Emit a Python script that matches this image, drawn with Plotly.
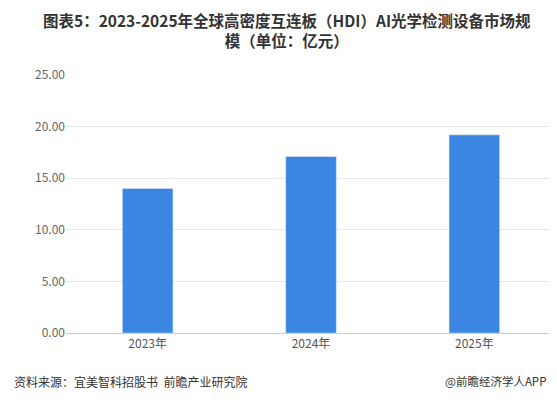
import plotly.graph_objects as go

categories = ["2023年", "2024年", "2025年"]
values = [14.0, 17.1, 19.2]
title = "图表5：2023-2025年全球高密度互连板（HDI）AI光学检测设备市场规<br>模（单位：亿元）"

fig = go.Figure(go.Bar(x=categories, y=values, marker_color="#3a86e2", width=0.31))
fig.update_layout(
    width=557, height=400, margin=dict(l=58, r=9, t=67, b=75),
    paper_bgcolor="white", plot_bgcolor="white", showlegend=False,
    font=dict(family="Noto Sans CJK SC", size=12, color="#555"),
    yaxis=dict(range=[0, 25], dtick=5, tickformat=".2f", showgrid=True, gridcolor="#e6e6e6",
               zeroline=False, showline=False, ticks="", tickfont=dict(color="#666")),
    xaxis=dict(showline=True, linecolor="#cccccc", ticks="", tickfont=dict(color="#555")),
    annotations=[
        dict(text="<b>" + title + "</b>", x=0.5, xref="paper", xanchor="center",
             y=1, yref="paper", yanchor="bottom", xshift=-24, yshift=22, showarrow=False,
             font=dict(size=15.5, color="#333")),
        dict(text="资料来源：宜美智科招股书  前瞻产业研究院", x=0, xref="paper", xanchor="left",
             y=0, yref="paper", yanchor="middle", xshift=-54, yshift=-48, showarrow=False,
             font=dict(size=12, color="#333")),
        dict(text="@前瞻经济学人APP", x=1, xref="paper", xanchor="right", y=0, yref="paper",
             yanchor="middle", xshift=-8, yshift=-48, showarrow=False, font=dict(size=11.5, color="#333")),
    ],
)
fig.write_html("out.html")
